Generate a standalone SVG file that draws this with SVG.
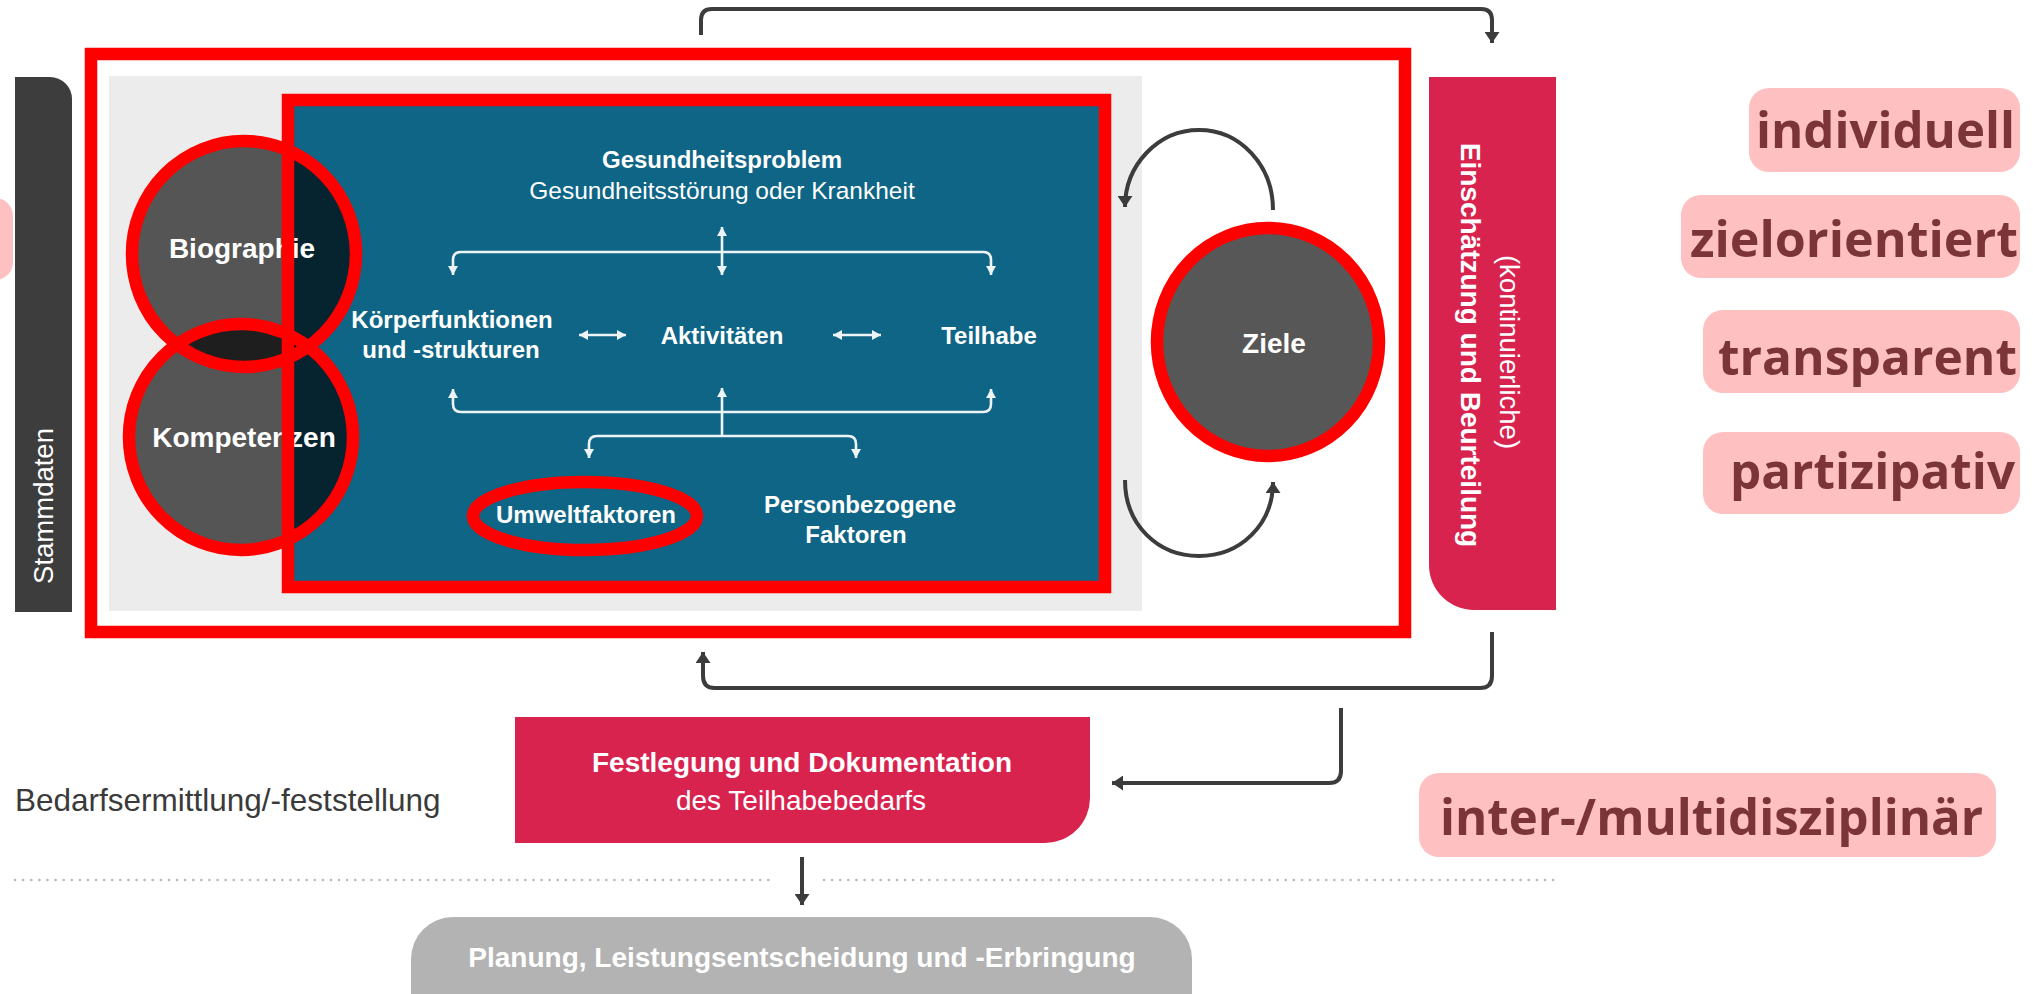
<svg xmlns="http://www.w3.org/2000/svg" width="2033" height="994" viewBox="0 0 2033 994">
<defs>
<style>
.t{font-family:"Liberation Sans",Arial,sans-serif;}
.w{fill:#ffffff;}
.b{font-weight:bold;}
.mid{text-anchor:middle;}
.wl{fill:none;stroke:#eef3f6;stroke-width:2.6;}
.dl{fill:none;stroke:#3c3c3c;stroke-width:4;}
.red{fill:none;stroke:#ff0000;stroke-width:12.5;}
.circ{fill:#000000;fill-opacity:0.64;}
.pink{fill:#ffc0c1;}
.badge{font-family:"Open Sans","Liberation Sans",sans-serif;font-weight:bold;font-size:50px;fill:#7b3538;}
.dots{fill:none;stroke:#b9b9b9;stroke-width:2.6;stroke-linecap:round;stroke-dasharray:0.1 8;}
</style>
<marker id="aw" viewBox="0 0 9 10" markerWidth="9" markerHeight="10" refX="9" refY="5" orient="auto-start-reverse" markerUnits="userSpaceOnUse"><path d="M0,0 L9,5 L0,10 z" fill="#eef3f6"/></marker>
<marker id="ad" viewBox="0 0 11 15" markerWidth="11" markerHeight="15" refX="11" refY="7.5" orient="auto-start-reverse" markerUnits="userSpaceOnUse"><path d="M0,0 L11,7.5 L0,15 z" fill="#3c3c3c"/></marker>
</defs>
<rect x="0" y="0" width="2033" height="994" fill="#ffffff"/>

<g id="pink-stub"><rect class="pink" x="-30" y="198" width="43" height="82" rx="18"/></g>

<g id="stammdaten">
<path d="M15,77 H50 A22,22 0 0 1 72,99 V612 H15 Z" fill="#3d3d3d"/>
<text class="t w" font-size="27.5" text-anchor="middle" transform="translate(53,506) rotate(-90)">Stammdaten</text>
</g>

<g id="frame-outer"><rect class="red" x="91" y="54" width="1314" height="578"/></g>
<g id="bg-gray"><rect x="109" y="76" width="1033" height="535" fill="#ececec"/></g>
<g id="icf-box">
<rect x="288" y="100" width="817" height="487" fill="#0e6585"/>
<text class="t w b mid" x="722" y="168" font-size="24">Gesundheitsproblem</text>
<text class="t w mid" x="722" y="199" font-size="24.5">Gesundheitsstörung oder Krankheit</text>
<text class="t w b mid" x="452" y="328" font-size="24">Körperfunktionen</text>
<text class="t w b mid" x="451" y="358" font-size="24">und -strukturen</text>
<text class="t w b mid" x="722" y="344" font-size="24">Aktivitäten</text>
<text class="t w b mid" x="989" y="344" font-size="24">Teilhabe</text>
<text class="t w b mid" x="586" y="523" font-size="24">Umweltfaktoren</text>
<text class="t w b mid" x="860" y="513" font-size="24">Personbezogene</text>
<text class="t w b mid" x="856" y="543" font-size="24">Faktoren</text>
</g>

<g id="icf-connectors">
<path class="wl" d="M453,275 V260 Q453,252 461,252 H983 Q991,252 991,260 V275" marker-start="url(#aw)" marker-end="url(#aw)"/>
<path class="wl" d="M722,227 V275" marker-start="url(#aw)" marker-end="url(#aw)"/>
<path class="wl" d="M579,335 H626" marker-start="url(#aw)" marker-end="url(#aw)"/>
<path class="wl" d="M833,335 H881" marker-start="url(#aw)" marker-end="url(#aw)"/>
<path class="wl" d="M453,389 V404 Q453,412 461,412 H983 Q991,412 991,404 V389" marker-start="url(#aw)" marker-end="url(#aw)"/>
<path class="wl" d="M722,388 V436" marker-start="url(#aw)"/>
<path class="wl" d="M589,458 V444 Q589,436 597,436 H848 Q856,436 856,444 V458" marker-start="url(#aw)" marker-end="url(#aw)"/>
</g>

<g id="biographie">
<ellipse class="circ" cx="244" cy="254" rx="112" ry="113"/>
</g>
<g id="kompetenzen">
<ellipse class="circ" cx="241" cy="437" rx="112" ry="113"/>
</g>
<text class="t w b mid" x="242" y="258" font-size="28">Biographie</text>
<text class="t w b mid" x="244" y="447" font-size="28">Kompetenzen</text>
<ellipse class="red" cx="244" cy="254" rx="112" ry="113"/>
<ellipse class="red" cx="241" cy="437" rx="112" ry="113"/>
<g id="icf-frame"><rect class="red" x="288" y="100" width="817" height="487"/></g>
<g id="umwelt-mark"><ellipse class="red" cx="585" cy="516" rx="112" ry="34"/></g>

<g id="ziele">
<ellipse cx="1268" cy="342" rx="111" ry="114" fill="#575757"/>
<ellipse class="red" cx="1268" cy="342" rx="111" ry="114"/>
<text class="t w b mid" x="1274" y="353" font-size="28">Ziele</text>
</g>

<g id="einschaetzung">
<path d="M1429,77 H1556 V610 H1474 A45,45 0 0 1 1429,565 Z" fill="#d9234f"/>
<text class="t w mid" font-size="27.5" transform="translate(1500,352) rotate(90)">(kontinuierliche)</text>
<text class="t w b mid" font-size="28" transform="translate(1461,345) rotate(90)">Einschätzung und Beurteilung</text>
</g>

<g id="festlegung">
<path d="M515,717 H1090 V798 A45,45 0 0 1 1045,843 H515 Z" fill="#d9234f"/>
<text class="t w b mid" x="802" y="772" font-size="28">Festlegung und Dokumentation</text>
<text class="t w mid" x="801" y="810" font-size="28">des Teilhabebedarfs</text>
</g>

<g id="planung">
<rect x="411" y="917" width="781" height="130" rx="42" fill="#b3b3b3"/>
<text class="t w b mid" x="802" y="967" font-size="28">Planung, Leistungsentscheidung und -Erbringung</text>
</g>

<g id="label-bedarf">
<text class="t" x="15" y="811" font-size="31.5" fill="#3a3a3a">Bedarfsermittlung/-feststellung</text>
</g>

<g id="separator">
<path class="dots" d="M15,880 H775"/>
<path class="dots" d="M824,880 H1557"/>
</g>

<g id="connectors">
<path class="dl" d="M701,35 V20 Q701,9 712,9 H1481 Q1492,9 1492,20 V43" marker-end="url(#ad)"/>
<path class="dl" d="M1492,632 V676 Q1492,688 1480,688 H715 Q703,688 703,676 V652" marker-end="url(#ad)"/>
<path class="dl" d="M1341,708 V771 Q1341,783 1329,783 H1112" marker-end="url(#ad)"/>
<path class="dl" d="M802,857 V905" marker-end="url(#ad)"/>
<path class="dl" d="M1273,210 C1273,165 1240,130 1199,130 C1158,130 1125,165 1125,207" marker-end="url(#ad)"/>
<path class="dl" d="M1125,480 C1125,525 1158,556 1199,556 C1240,556 1273,525 1273,482" marker-end="url(#ad)"/>
</g>

<g id="badge-individuell"><rect class="pink" x="1749" y="88" width="271" height="84" rx="20"/><text class="badge" x="1756" y="148" textLength="259" lengthAdjust="spacingAndGlyphs">individuell</text></g>
<g id="badge-zielorientiert"><rect class="pink" x="1681" y="195" width="339" height="83" rx="20"/><text class="badge" x="1690" y="257" textLength="328" lengthAdjust="spacingAndGlyphs">zielorientiert</text></g>
<g id="badge-transparent"><rect class="pink" x="1703" y="310" width="317" height="83" rx="20"/><text class="badge" x="1718" y="375" textLength="299" lengthAdjust="spacingAndGlyphs">transparent</text></g>
<g id="badge-partizipativ"><rect class="pink" x="1703" y="432" width="317" height="82" rx="20"/><text class="badge" x="1730" y="489" textLength="285" lengthAdjust="spacingAndGlyphs">partizipativ</text></g>
<g id="badge-inter"><rect class="pink" x="1419" y="773" width="577" height="84" rx="20"/><text class="badge" x="1440" y="835" textLength="543" lengthAdjust="spacingAndGlyphs">inter-/multidisziplinär</text></g>
</svg>
